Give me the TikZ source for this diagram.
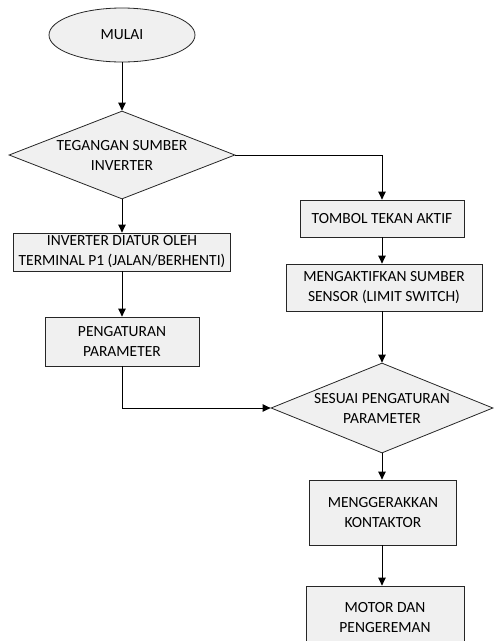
\documentclass[tikz,border=0pt]{standalone}
\usepackage{fontspec}
\setmainfont{Carlito}
\usetikzlibrary{shapes.geometric,arrows.meta}

\tikzset{
  kotak/.style={rectangle,draw=black!85,fill=black!6,line width=0.8pt,inner sep=0pt,align=center,font=\fontsize{15.5}{20}\selectfont},
  putusan/.style={diamond,draw=black!85,fill=black!6,line width=0.8pt,inner sep=0pt,aspect=2.5,align=center,font=\fontsize{15.5}{20}\selectfont},
  panah/.style={draw=black,line width=0.9pt,-{Triangle[length=8pt,width=7.5pt]}}
}

\begin{document}
\begin{tikzpicture}[x=1pt,y=-1pt]
  \useasboundingbox (0,0) rectangle (496,641);
  \node[ellipse,draw=black!85,fill=black!6,line width=0.8pt,inner sep=0pt,minimum width=146pt,minimum height=54pt,font=\fontsize{15.5}{20}\selectfont] (mulai) at (122,35) {MULAI};
  \node[putusan,minimum width=226pt,minimum height=88pt] (tegangan) at (122,155) {TEGANGAN SUMBER\\INVERTER};
  \node[kotak,minimum width=217pt,minimum height=38pt] (inverter) at (122,252) {INVERTER DIATUR OLEH\\TERMINAL P1 (JALAN/BERHENTI)};
  \node[kotak,minimum width=154pt,minimum height=49pt] (pengaturan) at (122,341.5) {PENGATURAN\\PARAMETER};
  \node[kotak,minimum width=164pt,minimum height=37pt] (tombol) at (382,218.5) {TOMBOL TEKAN AKTIF};
  \node[kotak,minimum width=196pt,minimum height=47pt] (sensor) at (384,287.5) {MENGAKTIFKAN SUMBER\\SENSOR (LIMIT SWITCH)};
  \node[putusan,minimum width=222pt,minimum height=90pt] (sesuai) at (382,408) {SESUAI PENGATURAN\\PARAMETER};
  \node[kotak,minimum width=147pt,minimum height=65pt] (kontaktor) at (383,512.5) {MENGGERAKKAN\\KONTAKTOR};
  \node[kotak,minimum width=158pt,minimum height=64pt] (motor) at (385,618) {MOTOR DAN\\PENGEREMAN};

  \draw[panah] (mulai) -- (tegangan);
  \draw[panah] (tegangan) -- (inverter);
  \draw[panah] (inverter) -- (pengaturan);
  \draw[panah] (tegangan.east) -| (tombol.north);
  \draw[panah] (tombol) -- (tombol|-sensor.north);
  \draw[panah] (tombol|-sensor.south) -- (sesuai.north);
  \draw[panah] (pengaturan.south) |- (sesuai.west);
  \draw[panah] (sesuai) -- (sesuai|-kontaktor.north);
  \draw[panah] (sesuai|-kontaktor.south) -- (sesuai|-motor.north);
\end{tikzpicture}
\end{document}
